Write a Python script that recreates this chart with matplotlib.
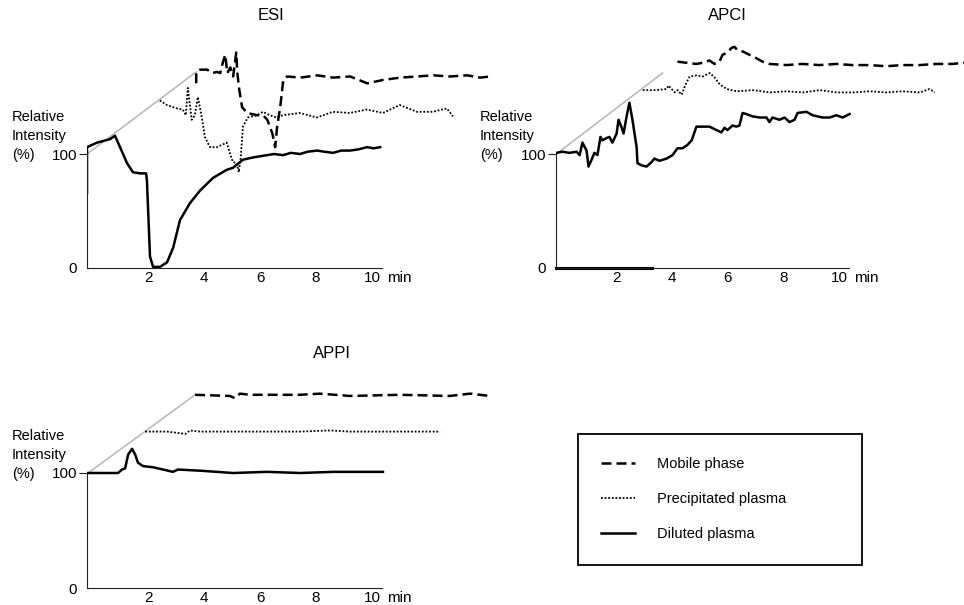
import matplotlib
matplotlib.use('Agg')
import matplotlib.pyplot as plt

plt.rcParams['font.family'] = ['Liberation Sans', 'DejaVu Sans']

# ---- data: time [min], relative intensity [%] ----
# ESI
esi_dil_t = [-0.18, -0.18, 0.18, 0.64, 0.82, 1.0, 1.25, 1.46, 1.71, 1.93, 1.96, 2.07, 2.18, 2.43,
             2.68, 2.9, 3.14, 3.5, 3.86, 4.32, 4.8, 5.04, 5.39, 5.75, 6.25, 6.5, 6.82, 7.1, 7.43,
             7.7, 8.04, 8.3, 8.61, 8.9, 9.21, 9.5, 9.82, 10.05, 10.29]
esi_dil_v = [66, 106, 110, 113, 116, 106, 92, 84, 83, 83, 77, 10, 1, 1,
             5, 18, 42, 57, 68, 79, 86, 88, 95, 97, 99, 100, 99, 101, 100,
             102, 103, 102, 101, 103, 103, 104, 106, 105, 106]
esi_pre_t = [-0.18, 0.07, 0.43, 0.64, 0.75, 0.82, 0.96, 1.07, 1.18, 1.32, 1.43, 1.61, 1.86, 2.21,
             2.32, 2.43, 2.57, 2.64, 2.71, 2.79, 2.96, 3.29, 3.5, 3.75, 4.0, 4.21, 4.82, 5.43,
             6.0, 6.61, 7.21, 7.79, 8.39, 9.0, 9.57, 10.07, 10.29]
esi_pre_v = [100, 96, 93, 92, 87, 111, 83, 87, 103, 85, 68, 59, 59, 63,
             54, 46, 45, 37, 50, 77, 85, 87, 90, 87, 85, 87, 89, 85,
             90, 89, 92, 89, 96, 90, 90, 93, 86]
esi_mob_t = [-0.18, -0.18, -0.04, 0.21, 0.39, 0.57, 0.68, 0.79, 0.86, 0.93, 1.04, 1.14, 1.25, 1.29,
             1.36, 1.46, 1.64, 2.0, 2.21, 2.36, 2.54, 2.64, 2.71, 2.82, 2.93, 3.07, 3.54, 4.14,
             4.71, 5.32, 5.93, 6.5, 7.11, 7.71, 8.29, 8.89, 9.5, 9.96, 10.32]
esi_mob_v = [90, 100, 102, 102, 99, 100, 99, 110, 115, 99, 104, 96, 117, 99,
             84, 69, 64, 62, 62, 58, 46, 34, 52, 69, 93, 96, 95, 97,
             95, 96, 90, 93, 95, 96, 97, 96, 97, 95, 96]

# APCI
apci_dil_t = [-0.17, 0.05, 0.31, 0.56, 0.67, 0.77, 0.92, 0.99, 1.1, 1.2, 1.31, 1.42, 1.49, 1.64,
              1.74, 1.85, 2.0, 2.07, 2.17, 2.25, 2.36, 2.46, 2.57, 2.72, 2.75, 2.9, 3.08, 3.26,
              3.36, 3.54, 3.8, 4.01, 4.19, 4.37, 4.55, 4.7, 4.8, 4.87, 5.09, 5.34, 5.59, 5.77,
              5.88, 5.99, 6.17, 6.31, 6.42, 6.53, 6.67, 6.89, 7.14, 7.39, 7.5, 7.61, 7.86, 8.04,
              8.22, 8.4, 8.51, 8.83, 9.05, 9.41, 9.66, 9.91, 10.13, 10.38]
apci_dil_v = [101, 102, 101, 102, 99, 110, 103, 89, 95, 101, 99, 115, 112, 114,
              115, 110, 118, 130, 124, 118, 133, 145, 130, 106, 92, 90, 89, 93,
              96, 94, 96, 99, 105, 105, 108, 112, 119, 124, 124, 124, 121, 119,
              123, 121, 125, 124, 125, 136, 135, 133, 132, 132, 128, 132, 130, 132,
              128, 130, 136, 137, 134, 132, 132, 134, 132, 135]
apci_pre_t = [-0.16, 0.34, 0.7, 0.77, 0.88, 0.99, 1.1, 1.24, 1.35, 1.42, 1.53, 1.78, 2.0, 2.25,
              2.43, 2.61, 2.86, 3.22, 3.8, 4.41, 5.02, 5.6, 6.21, 6.82, 7.39, 8.0, 8.61, 9.18,
              9.8, 10.16, 10.34]
apci_pre_v = [101, 101, 102, 105, 102, 99, 101, 97, 104, 108, 113, 114, 113, 116,
              112, 106, 102, 100, 101, 99, 100, 99, 101, 99, 99, 100, 99, 100,
              99, 102, 99]
apci_mob_t = [-0.16, 0.16, 0.52, 0.74, 0.99, 1.17, 1.35, 1.46, 1.64, 1.78, 1.89, 2.0, 2.18, 2.43,
              2.68, 2.9, 3.15, 3.76, 4.33, 4.95, 5.56, 6.13, 6.74, 7.35, 7.93, 8.54, 9.16, 9.73,
              10.12, 10.38]
apci_mob_v = [101, 100, 99, 100, 102, 99, 101, 107, 109, 113, 114, 111, 110, 107,
              104, 101, 99, 98, 99, 98, 99, 98, 98, 97, 98, 98, 99, 99,
              100, 99]
apci_base_t = [-0.18, 3.29]
apci_base_v = [0, 0]

# APPI
appi_dil_t = [-0.14, 0.29, 0.93, 1.07, 1.18, 1.29, 1.43, 1.54, 1.64, 1.82, 2.18, 2.54, 2.89, 3.07,
              3.86, 4.46, 5.04, 6.25, 7.43, 8.61, 9.82, 10.39]
appi_dil_v = [100, 100, 100, 103, 104, 116, 121, 116, 109, 106, 105, 103, 101, 103,
              102, 101, 100, 101, 100, 101, 101, 101]
appi_pre_t = [-0.14, 0.64, 1.29, 1.46, 1.82, 3.61, 5.39, 6.46, 7.18, 8.96, 10.39]
appi_pre_v = [100, 100, 98, 101, 100, 100, 100, 101, 100, 100, 100]
appi_mob_t = [-0.14, 1.1, 1.29, 1.46, 1.82, 3.6, 4.32, 5.39, 7.18, 8.96, 9.68, 10.39]
appi_mob_v = [100, 99, 97, 101, 100, 100, 101, 99, 100, 99, 101, 99]

labels = ['Mobile phase', 'Precipitated plasma', 'Diluted plasma']
ylabel_lines = ['Relative', 'Intensity', '(%)']

# ---- layout (pixels) ----
W, H = 964, 605
X0 = -0.18

fig = plt.figure(figsize=(W / 100, H / 100), dpi=100)


def panel(title, left, zero_y, ppm, ppp, width, mob, pre, dil,
          off_pre, off_mob, grey_end, ylab_x, title_xy):
    ax = fig.add_axes([left / W, (H - zero_y) / H, width / W, 210 * ppp / H])
    ax.set_xlim(X0, X0 + width / ppm)
    ax.set_ylim(0, 210)
    ax.patch.set_visible(False)

    l_mob, = ax.plot([t + off_mob[0] for t in mob[0]], [v + off_mob[1] for v in mob[1]],
                     color='black', lw=1.8, ls=(0, (4, 2)))
    l_pre, = ax.plot([t + off_pre[0] for t in pre[0]], [v + off_pre[1] for v in pre[1]],
                     color='black', lw=1.3, ls=(0, (1, 1)))
    l_dil, = ax.plot(dil[0], dil[1], color='black', lw=1.8)
    ax.plot([dil[0][0], grey_end[0]], [100, grey_end[1]], color='#b5b5b5', lw=1.1, zorder=1)

    for s in ['top', 'right']:
        ax.spines[s].set_visible(False)
    ax.spines['left'].set_bounds(0, 100)
    ax.spines['bottom'].set_bounds(X0, 10.37)
    ax.spines['left'].set_color('#222222')
    ax.spines['bottom'].set_color('#222222')

    ax.set_xticks([2, 4, 6, 8, 10])
    ax.set_xticklabels(['2', '4', '6', '8', '10'])
    ax.tick_params(axis='x', length=0, pad=2, labelsize=11)
    ax.set_yticks([0, 100])
    ax.set_yticklabels(['0', '100'])
    ax.tick_params(axis='y', length=6, pad=1, labelsize=11, color='#222222')
    ax.yaxis.get_major_ticks()[0].tick1line.set_visible(False)
    ax.annotate('min', xy=(10.55, 0), xycoords=('data', 'axes fraction'),
                xytext=(0, -2), textcoords='offset points', va='top', ha='left', fontsize=11)

    y100 = zero_y - 100 * ppp
    for line, dy in zip(ylabel_lines, [-37, -18, 1]):
        fig.text(ylab_x / W, 1 - (y100 + dy) / H, line,
                 ha='left', va='center', fontsize=10.5)
    fig.text(title_xy[0] / W, 1 - title_xy[1] / H, title, ha='center', va='center', fontsize=12)
    return l_mob, l_pre, l_dil


panel('ESI', 87, 268, 28, 1.14, 420,
      (esi_mob_t, esi_mob_v), (esi_pre_t, esi_pre_v), (esi_dil_t, esi_dil_v),
      (2.6, 47), (3.9, 72), (3.72, 172), 12, (271, 16))
panel('APCI', 556, 268, 27.8, 1.14, 408,
      (apci_mob_t, apci_mob_v), (apci_pre_t, apci_pre_v), (apci_dil_t, apci_dil_v),
      (3.1, 55), (4.35, 80), (3.65, 171), 480, (727, 16))
fig.axes[-1].plot(apci_base_t, apci_base_v, color='black', lw=2.2, clip_on=False)
handles = panel('APPI', 87, 588, 28, 1.15, 420,
                (appi_mob_t, appi_mob_v), (appi_pre_t, appi_pre_v), (appi_dil_t, appi_dil_v),
                (2.04, 36), (3.82, 68), (3.68, 168), 12, (332, 353))

leg = fig.legend(handles, labels, loc='upper left',
                 bbox_to_anchor=(578 / W, 1 - 565 / H, (862 - 578) / W, (565 - 434) / H),
                 mode='expand', fancybox=False, edgecolor='black', framealpha=1,
                 fontsize=10.5, borderpad=1.6, labelspacing=1.44, handlelength=2.3,
                 handletextpad=1.5, borderaxespad=0)
leg.get_frame().set_linewidth(1.3)

fig.savefig('out.png', dpi=100)
